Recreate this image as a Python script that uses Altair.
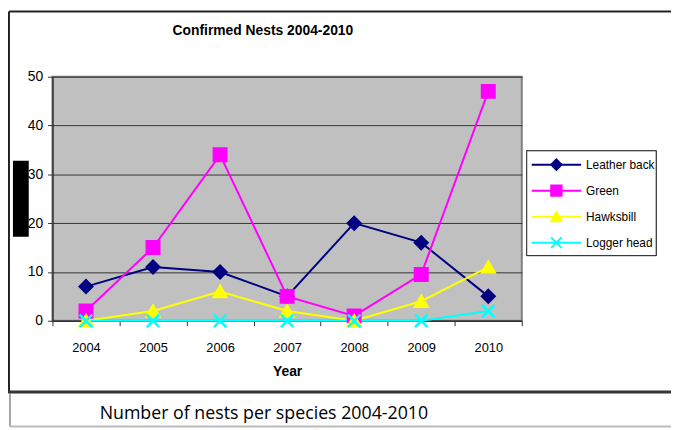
import altair as alt
import pandas as pd

years = ["2004", "2005", "2006", "2007", "2008", "2009", "2010"]
series_names = ["Leather back", "Green", "Hawksbill", "Logger head"]
leatherback = [7, 11, 10, 5, 20, 16, 5]
green = [2, 15, 34, 5, 1, 9.5, 47]
hawksbill = [0, 2, 6, 2, 0, 4, 11]
loggerhead = [0, 0, 0, 0, 0, 0, 2]
colors = ["#000080", "#FF00FF", "#FFFF00", "#00FFFF"]
shapes = ["diamond", "square", "triangle-up", "M-1,-1L1,1M-1,1L1,-1"]

rows = []
for name, vals in zip(series_names, [leatherback, green, hawksbill, loggerhead]):
    for i, (y, v) in enumerate(zip(years, vals)):
        rows.append({"Year": y, "Nests": v, "Species": name, "order": series_names.index(name)})
df = pd.DataFrame(rows)
leg_df = pd.DataFrame({"Species": series_names})

FONT = "Liberation Sans"

x_enc = alt.X("Year:O", sort=years, scale=alt.Scale(paddingInner=0, paddingOuter=0, domain=years),
              axis=alt.Axis(title="Year", labelAngle=0, tickBand="extent", tickSize=5,
                            labelPadding=16, titlePadding=10, labelFont=FONT, labelFontSize=13,
                            titleFont="Liberation Sans", titleFontSize=14, titleFontWeight="bold",
                            domainColor="#333333", tickColor="#333333", labelColor="black",
                            titleColor="black", grid=False, domainWidth=1.5))
y_enc = alt.Y("Nests:Q", scale=alt.Scale(domain=[0, 50]),
              axis=alt.Axis(title=None, values=[0, 10, 20, 30, 40, 50], tickSize=5,
                            labelPadding=5, labelFont=FONT, labelFontSize=14,
                            domainColor="#333333", tickColor="#333333", labelColor="black",
                            grid=True, gridColor="#333333", gridWidth=1, domainWidth=1.5))
color_enc = alt.Color("Species:N", scale=alt.Scale(domain=series_names, range=colors), legend=None)
shape_enc = alt.Shape("Species:N", scale=alt.Scale(domain=series_names, range=shapes), legend=None)

base = alt.Chart(df).encode(x=x_enc, y=y_enc)

lines = base.mark_line(strokeWidth=2).encode(color=color_enc, detail="Species:N", order="order:Q")
points = base.mark_point(filled=True, size=160, strokeWidth=2.5, opacity=1).encode(
    color=color_enc, stroke=alt.Stroke("Species:N", scale=alt.Scale(domain=series_names, range=colors), legend=None),
    shape=shape_enc, order="order:Q")

# custom legend
leg_y = alt.Y("Species:N", scale=alt.Scale(type="point", domain=series_names, range=[89, 168], padding=0), axis=None)
leg_box = alt.Chart(leg_df).mark_rect(fill="white", stroke="#333333", strokeWidth=1).encode(
    x=alt.value(480), x2=alt.value(611), y=alt.value(75), y2=alt.value(181))
leg_base = alt.Chart(leg_df).encode(y=leg_y)
leg_lines = leg_base.mark_rule(strokeWidth=2).encode(
    x=alt.value(485), x2=alt.value(535), color=color_enc)
leg_pts = leg_base.mark_point(filled=True, size=110, strokeWidth=2, opacity=1).encode(
    x=alt.value(510), color=color_enc,
    stroke=alt.Stroke("Species:N", scale=alt.Scale(domain=series_names, range=colors), legend=None),
    shape=shape_enc)
leg_text = leg_base.mark_text(align="left", baseline="middle", font=FONT, fontSize=12, color="black").encode(
    x=alt.value(540), text="Species:N")

legend = alt.layer(leg_box, leg_lines, leg_pts, leg_text)

# decorations: title, borders, caption
deco_df = pd.DataFrame({"t": ["Confirmed Nests 2004-2010"]})
title = alt.Chart(deco_df).mark_text(font="Liberation Sans", fontSize=14, fontWeight="bold",
                                     color="black", align="center", baseline="middle").encode(
    x=alt.value(213), y=alt.value(-46), text="t:N")
caption_df = pd.DataFrame({"t": ["Number of nests per species 2004-2010"]})
caption = alt.Chart(caption_df).mark_text(font="Open Sans", fontSize=18, color="black",
                                          align="center", baseline="middle").encode(
    x=alt.value(214), y=alt.value(341), text="t:N")
top_b = alt.Chart(deco_df).mark_rule(color="#222222", strokeWidth=2).encode(
    x=alt.value(-44), x2=alt.value(630), y=alt.value(-66))
left_b = alt.Chart(deco_df).mark_rule(color="#222222", strokeWidth=2).encode(
    x=alt.value(-44), y=alt.value(-66), y2=alt.value(319))
bot_b = alt.Chart(deco_df).mark_rule(color="#333333", strokeWidth=3).encode(
    x=alt.value(-45), x2=alt.value(630), y=alt.value(319))
cap_left = alt.Chart(deco_df).mark_rule(color="#888888", strokeWidth=1.5).encode(
    x=alt.value(-43), y=alt.value(320), y2=alt.value(354))
cap_bot = alt.Chart(deco_df).mark_rule(color="#bbbbbb", strokeWidth=2).encode(
    x=alt.value(-43), x2=alt.value(630), y=alt.value(354))
blackbox = alt.Chart(deco_df).mark_rect(color="black").encode(
    x=alt.value(-40), x2=alt.value(-24), y=alt.value(85), y2=alt.value(162))

main = alt.layer(lines, points)

chart = alt.layer(main, legend, title, caption, top_b, left_b, bot_b, cap_left, cap_bot, blackbox).resolve_scale(
    y="independent").properties(
    width=475, height=247,
    autosize=alt.AutoSizeParams(type="none"),
    padding={"left": 45, "top": 67, "right": 151, "bottom": 108},
    background="white",
).configure_view(fill="#C0C0C0", stroke="#808080", strokeWidth=2)

chart.save("out.html", embed_options={"renderer": "svg", "actions": False})
